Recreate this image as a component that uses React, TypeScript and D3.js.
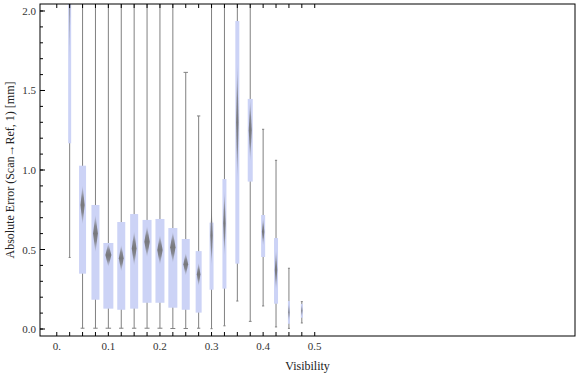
import * as d3 from "d3";

// categories (visibility bin centres)
const visibility = [
  0.025, 0.05, 0.075, 0.1, 0.125, 0.15, 0.175, 0.2, 0.225, 0.25, 0.275, 0.3,
  0.325, 0.35, 0.375, 0.4, 0.425, 0.45, 0.475,
];
// relative sample size per bin (box width)
const counts = [30, 70, 80, 100, 80, 80, 90, 90, 90, 80, 60, 40, 40, 40, 50, 40, 40, 20, 20];
const whiskerLo = [
  0.45, 0.005, 0.005, 0.005, 0.005, 0.005, 0.005, 0.005, 0.003, 0.003, 0.005,
  0.002, 0.02, 0.176, 0.048, 0.145, 0.013, 0.004, 0.038,
];
const q1 = [
  1.168, 0.348, 0.184, 0.128, 0.121, 0.128, 0.165, 0.165, 0.134, 0.121, 0.103,
  0.247, 0.254, 0.411, 0.927, 0.453, 0.159, 0.033, 0.071,
];
const q3 = [
  3.1, 1.027, 0.78, 0.541, 0.673, 0.723, 0.686, 0.692, 0.635, 0.566, 0.49,
  0.669, 0.943, 1.937, 1.447, 0.717, 0.572, 0.176, 0.157,
];
const whiskerHi = [
  5.2, 4.6, 4.1, 3.8, 3.6, 3.9, 3.4, 3.3, 2.9, 1.614, 1.34, 2.8, 3.1, 3.6,
  2.3, 1.256, 1.061, 0.382, 0.172,
];
const mean = [
  2.3, 0.78, 0.6, 0.465, 0.445, 0.507, 0.549, 0.497, 0.514, 0.407, 0.344, 0.59,
  0.665, 1.3, 1.25, 0.612, 0.371, 0.105, 0.115,
];
const meanCI = [
  0.65, 0.125, 0.12, 0.075, 0.085, 0.11, 0.1, 0.095, 0.1, 0.072, 0.075, 0.2,
  0.21, 0.38, 0.2, 0.09, 0.13, 0.06, 0.04,
];

const xMajor = [0, 0.1, 0.2, 0.3, 0.4, 0.5];
const xMajorLabels = ["0.", "0.1", "0.2", "0.3", "0.4", "0.5"];
const yMajor = [0, 0.5, 1, 1.5, 2];
const yMajorLabels = ["0.0", "0.5", "1.0", "1.5", "2.0"];

export default function App() {
  const W = 576;
  const H = 375;
  const left = 40;
  const right = 575;
  const top = 4;
  const bottom = 336;

  const x = d3.scaleLinear().domain([-0.0325, 1.0045]).range([left, right]);
  const y = d3.scaleLinear().domain([-0.044, 2.044]).range([bottom, top]);
  const w = d3.scaleLinear().domain([0, d3.max(counts) as number]).range([0, 10]);

  const xMinor = d3.range(0, 0.5001, 0.025);
  const yMinor = d3.range(0, 2.0001, 0.1);

  const boxes = visibility.map((v, i) => ({
    cx: x(v),
    bw: w(counts[i]),
    lo: whiskerLo[i],
    hi: whiskerHi[i],
    q1: q1[i],
    q3: q3[i],
    m: mean[i],
    ci: meanCI[i],
  }));

  const font = "'Liberation Serif', 'DejaVu Serif', serif";

  return (
    <div style={{ position: "absolute", left: 0, top: 0, width: W, height: H, overflow: "hidden" }}>
      <svg width={W} height={H} style={{ display: "block", background: "#fff" }}>
        <defs>
          <clipPath id="plot">
            <rect x={left} y={top} width={right - left} height={bottom - top} />
          </clipPath>
          <linearGradient id="dia" x1="0" y1="0" x2="0" y2="1">
            <stop offset="0" stopColor="#6e6e6e" stopOpacity="0" />
            <stop offset="0.3" stopColor="#6e6e6e" stopOpacity="0.75" />
            <stop offset="0.5" stopColor="#6e6e6e" stopOpacity="0.9" />
            <stop offset="0.7" stopColor="#6e6e6e" stopOpacity="0.75" />
            <stop offset="1" stopColor="#6e6e6e" stopOpacity="0" />
          </linearGradient>
        </defs>

        <g clipPath="url(#plot)">
          {boxes.map((b, i) => {
            const cap = Math.max(2, b.bw * 0.55);
            const dw = b.bw * 0.3;
            return (
              <g key={i}>
                <line x1={b.cx} x2={b.cx} y1={y(b.lo)} y2={y(b.hi)} stroke="#808080" strokeWidth={1} />
                <line x1={b.cx - cap / 2} x2={b.cx + cap / 2} y1={y(b.lo)} y2={y(b.lo)} stroke="#808080" />
                <line x1={b.cx - cap / 2} x2={b.cx + cap / 2} y1={y(b.hi)} y2={y(b.hi)} stroke="#808080" />
                <rect
                  x={b.cx - b.bw / 2}
                  width={b.bw}
                  y={y(b.q3)}
                  height={y(b.q1) - y(b.q3)}
                  fill="#ccd3f6"
                />
                <polygon
                  points={[
                    [b.cx, y(b.m + b.ci)],
                    [b.cx + dw, y(b.m)],
                    [b.cx, y(b.m - b.ci)],
                    [b.cx - dw, y(b.m)],
                  ]
                    .map((p) => p.join(","))
                    .join(" ")}
                  fill="url(#dia)"
                />
              </g>
            );
          })}
        </g>

        {/* frame */}
        <rect x={left} y={top} width={right - left} height={bottom - top} fill="none" stroke="#000" strokeWidth={1} />

        {/* x ticks */}
        {xMinor.map((t, i) => (
          <g key={"xt" + i}>
            <line x1={x(t)} x2={x(t)} y1={bottom} y2={bottom - 4} stroke="#000" />
            <line x1={x(t)} x2={x(t)} y1={top} y2={top + 4} stroke="#000" />
          </g>
        ))}
        {xMajor.map((t, i) => (
          <text
            key={"xl" + i}
            x={x(t)}
            y={bottom + 14}
            textAnchor="middle"
            fontFamily={font}
            fontSize={11}
            fill="#333"
          >
            {xMajorLabels[i]}
          </text>
        ))}

        {/* y ticks */}
        {yMinor.map((t, i) => (
          <line key={"ym" + i} x1={left} x2={left + 3} y1={y(t)} y2={y(t)} stroke="#000" />
        ))}
        {yMajor.map((t, i) => (
          <g key={"yl" + i}>
            <line x1={left} x2={left + 5} y1={y(t)} y2={y(t)} stroke="#000" />
            <text
              x={left - 4}
              y={y(t) + 4}
              textAnchor="end"
              fontFamily={font}
              fontSize={11}
              fill="#333"
            >
              {yMajorLabels[i]}
            </text>
          </g>
        ))}

        <text
          x={(left + right) / 2}
          y={370}
          textAnchor="middle"
          fontFamily={font}
          fontSize={12}
          fill="#222"
        >
          Visibility
        </text>
        <text
          transform={`translate(14,${(top + bottom) / 2}) rotate(-90)`}
          textAnchor="middle"
          fontFamily={font}
          fontSize={12}
          fill="#222"
        >
          Absolute Error (Scan→Ref, 1) [mm]
        </text>
      </svg>
    </div>
  );
}
